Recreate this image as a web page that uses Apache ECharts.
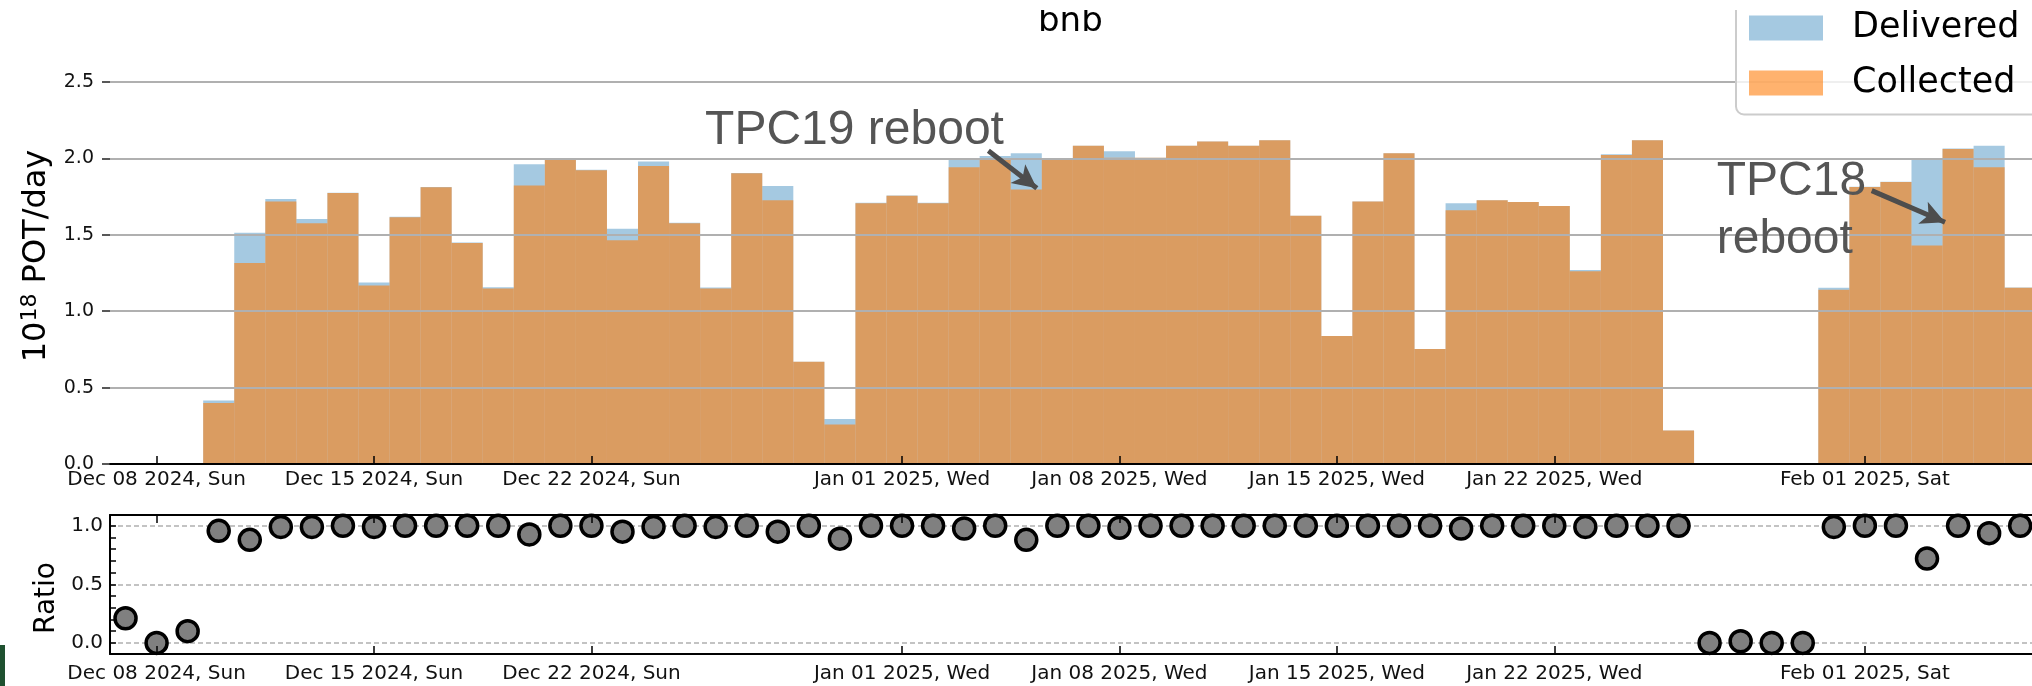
<!DOCTYPE html>
<html>
<head>
<meta charset="utf-8">
<title>bnb POT per day</title>
<script src="https://cdn.jsdelivr.net/npm/echarts@6.0.0/dist/echarts.min.js"></script>
<style>
  html, body { margin: 0; padding: 0; background: #fff; }
  #chart { width: 2032px; height: 686px; }
</style>
</head>
<body>
<div id="chart"></div>
<script>
// one bar / one ratio point per day
var dates = [
  '2024-12-07', '2024-12-08', '2024-12-09', '2024-12-10', '2024-12-11', '2024-12-12', '2024-12-13',
  '2024-12-14', '2024-12-15', '2024-12-16', '2024-12-17', '2024-12-18', '2024-12-19', '2024-12-20',
  '2024-12-21', '2024-12-22', '2024-12-23', '2024-12-24', '2024-12-25', '2024-12-26', '2024-12-27',
  '2024-12-28', '2024-12-29', '2024-12-30', '2024-12-31',
  '2025-01-01', '2025-01-02', '2025-01-03', '2025-01-04', '2025-01-05', '2025-01-06', '2025-01-07',
  '2025-01-08', '2025-01-09', '2025-01-10', '2025-01-11', '2025-01-12', '2025-01-13', '2025-01-14',
  '2025-01-15', '2025-01-16', '2025-01-17', '2025-01-18', '2025-01-19', '2025-01-20', '2025-01-21',
  '2025-01-22', '2025-01-23', '2025-01-24', '2025-01-25', '2025-01-26', '2025-01-27', '2025-01-28',
  '2025-01-29', '2025-01-30', '2025-01-31',
  '2025-02-01', '2025-02-02', '2025-02-03', '2025-02-04', '2025-02-05', '2025-02-06'
];

// 10^18 POT per day
var delivered = [
  null, null, null, 0.416, 1.513, 1.735, 1.604,
  1.776, 1.188, 1.618, 1.813, 1.449, 1.157, 1.962,
  1.992, 1.925, 1.539, 1.979, 1.579, 1.155, 1.905,
  1.820, 0.669, 0.294, 1.709,
  1.757, 1.709, 1.999, 2.016, 2.034, 2.003, 2.082,
  2.047, 2.005, 2.082, 2.110, 2.082, 2.119, 1.624,
  0.837, 1.718, 2.034, 0.752, 1.707, 1.726, 1.715,
  1.689, 1.269, 2.027, 2.119, 0.220, null, null,
  null, null, 1.153,
  1.815, 1.848, 1.990, 2.064, 2.082, 1.155
];
var collected = [
  null, null, null, 0.399, 1.316, 1.718, 1.576,
  1.774, 1.168, 1.615, 1.811, 1.447, 1.149, 1.822,
  1.990, 1.922, 1.465, 1.951, 1.576, 1.149, 1.903,
  1.726, 0.669, 0.259, 1.707,
  1.755, 1.707, 1.942, 1.995, 1.796, 2.003, 2.082,
  2.005, 2.005, 2.082, 2.110, 2.082, 2.119, 1.624,
  0.837, 1.718, 2.034, 0.752, 1.661, 1.726, 1.715,
  1.689, 1.262, 2.023, 2.119, 0.220, null, null,
  null, null, 1.140,
  1.813, 1.846, 1.430, 2.062, 1.942, 1.153
];
// collected / delivered
var ratio = [
  0.21, 0.0, 0.10, 0.957, 0.88, 0.99, 0.99,
  1.0, 0.99, 1.0, 1.0, 1.0, 1.0, 0.926,
  1.0, 1.0, 0.95, 0.99, 1.0, 0.99, 1.0,
  0.95, 1.0, 0.89, 1.0,
  1.0, 1.0, 0.977, 1.0, 0.88, 1.0, 1.0,
  0.983, 1.0, 1.0, 1.0, 1.0, 1.0, 1.0,
  1.0, 1.0, 1.0, 1.0, 0.977, 1.0, 1.0,
  1.0, 0.99, 1.0, 1.0, 1.0, 0.0, 0.014,
  0.0, 0.0, 0.99,
  1.0, 1.0, 0.72, 1.0, 0.937, 1.0
];

var tickDates = ['2024-12-08', '2024-12-15', '2024-12-22', '2025-01-01', '2025-01-08', '2025-01-15', '2025-01-22', '2025-02-01'];
var tickLabels = ['Dec 08 2024, Sun', 'Dec 15 2024, Sun', 'Dec 22 2024, Sun', 'Jan 01 2025, Wed',
                  'Jan 08 2025, Wed', 'Jan 15 2025, Wed', 'Jan 22 2025, Wed', 'Feb 01 2025, Sat'];
var ratioLabels = [0, 0.5, 1.0];
var ratioTicks = [0, 0.1, 0.2, 0.3, 0.4, 0.5, 0.6, 0.7, 0.8, 0.9, 1.0];

var DAY = 86400000;
function ts(d) { return Date.parse(d + 'T00:00:00Z'); }
function at(d, frac) { return ts(d) + frac * DAY; }

// annotations, matplotlib style: text anchor (left, baseline) and arrow from -> to
var notes = [
  { text: 'TPC19 reboot', textAt: [at('2024-12-25', 0.66), 2.094],
    from: [at('2025-01-03', 0.78), 2.05], to: [at('2025-01-05', 0.34), 1.804] },
  { text: 'TPC18\nreboot', textAt: [at('2025-01-27', 0.23), 1.765],
    from: [at('2025-02-01', 0.22), 1.789], to: [at('2025-02-03', 0.58), 1.582] }
];

var FONT = 'DejaVu Sans';
var gridLeft = 110;
var gridWidth = 2032 - gridLeft;       // plot runs off the right edge of the picture
var pxPerDay = 31.06;
var xMin = ts('2024-12-06') + DAY / 2;
var xMax = xMin + gridWidth / pxPerDay * DAY;

var xs = dates.map(ts);
var tickTs = tickDates.map(ts);
var labelOf = {};
tickTs.forEach(function (t, i) { labelOf[t] = tickLabels[i]; });
function pairs(vals) { return vals.map(function (v, i) { return [xs[i], v]; }); }

function dateAxis(gridIndex, position, showLabel, margin) {
  return {
    type: 'value', gridIndex: gridIndex, position: position, min: xMin, max: xMax,
    axisLine: { show: true, onZero: false, lineStyle: { color: '#000', width: 2 } },
    axisTick: { show: true, inside: true, length: 8, customValues: tickTs, lineStyle: { color: '#000', width: 1.5 } },
    axisLabel: { show: showLabel, customValues: tickTs, margin: margin, fontFamily: FONT, fontSize: 20, color: '#111',
                 formatter: function (v) { return labelOf[v] || ''; } },
    splitLine: { show: false },
    z: 3
  };
}

var chart = echarts.init(document.getElementById('chart'));

var option = {
  animation: false,
  title: {
    text: 'bnb', left: 1038, top: 5, padding: 0,
    textStyle: { fontFamily: FONT, fontSize: 34, fontWeight: 'normal', color: '#000' }
  },
  legend: {
    data: ['Delivered', 'Collected'], orient: 'vertical', left: 1736, top: -6,
    padding: [14, 40, 11.5, 13], itemWidth: 74, itemHeight: 25, itemGap: 15,
    icon: 'rect', selectedMode: false,
    backgroundColor: 'rgba(255,255,255,0.8)', borderColor: '#cccccc', borderWidth: 2, borderRadius: 8,
    textStyle: { fontFamily: FONT, fontSize: 35, color: '#000', lineHeight: 40, padding: [0, 0, 0, 24] }
  },
  grid: [
    { left: gridLeft, top: 82, width: gridWidth, height: 382 },
    { left: gridLeft, top: 515, width: gridWidth, height: 139 }
  ],
  xAxis: [
    dateAxis(0, 'bottom', true, 6),
    dateAxis(1, 'bottom', true, 10),
    dateAxis(1, 'top', false, 4)
  ],
  yAxis: [
    {
      type: 'value', gridIndex: 0, min: 0, max: 2.5, interval: 0.5,
      axisLine: { show: false },
      axisTick: { show: true, length: 8, lineStyle: { color: '#222', width: 1.5 } },
      axisLabel: { margin: 16, fontFamily: FONT, fontSize: 19, color: '#111',
                   formatter: function (v) { return v.toFixed(1); } },
      splitLine: { show: true, lineStyle: { color: '#b0b0b0', width: 2 } },
      name: '{a|10}{s|18}{a| POT/day}', nameLocation: 'middle', nameRotate: 90, nameGap: 55,
      nameTextStyle: {
        fontFamily: FONT, fontSize: 32, color: '#000', padding: [0, 0, 0, 34],
        rich: { a: { fontFamily: FONT, fontSize: 32, color: '#000' },
                s: { fontFamily: FONT, fontSize: 22, color: '#000', padding: [0, 0, 13, 0] } }
      },
      z: 3
    },
    {
      type: 'value', gridIndex: 1, min: -0.095, max: 1.092,
      axisLine: { show: true, lineStyle: { color: '#000', width: 2 } },
      axisTick: { show: true, inside: true, length: 6, customValues: ratioTicks, lineStyle: { color: '#000', width: 1.5 } },
      axisLabel: { customValues: ratioLabels, margin: 7, fontFamily: FONT, fontSize: 20, color: '#111',
                   formatter: function (v) { return v.toFixed(1); } },
      splitLine: { show: false },
      name: 'Ratio', nameLocation: 'middle', nameRotate: 90, nameGap: 42,
      nameTextStyle: { fontFamily: FONT, fontSize: 28, color: '#000', padding: [0, 27, 0, 0] },
      z: 3
    }
  ],
  series: [
    {
      name: 'Delivered', type: 'bar', xAxisIndex: 0, yAxisIndex: 0,
      data: pairs(delivered), barWidth: pxPerDay, barGap: '-100%',
      itemStyle: { color: 'rgba(31,119,180,0.4)' },
      emphasis: { disabled: true }
    },
    {
      name: 'Collected', type: 'bar', xAxisIndex: 0, yAxisIndex: 0,
      data: pairs(collected), barWidth: pxPerDay, barGap: '-100%',
      itemStyle: { color: 'rgba(255,127,14,0.6)' },
      emphasis: { disabled: true },
      markLine: {
        silent: true, animation: false, symbol: ['none', 'arrow'], symbolSize: [18, 24],
        label: { show: false },
        lineStyle: { color: '#4d4d4d', width: 5, type: 'solid', opacity: 1 },
        emphasis: { disabled: true },
        data: notes.map(function (n) { return [{ coord: n.from }, { coord: n.to }]; })
      }
    },
    {
      name: 'Ratio', type: 'scatter', xAxisIndex: 1, yAxisIndex: 1,
      data: pairs(ratio), symbolSize: 21, clip: false,
      itemStyle: { color: '#808080', borderColor: '#000', borderWidth: 3.5, opacity: 1 },
      emphasis: { disabled: true },
      markLine: {
        silent: true, animation: false, symbol: 'none', z: 1,
        label: { show: false },
        lineStyle: { color: '#b0b0b0', width: 1.5, type: [5, 3] },
        emphasis: { disabled: true },
        data: ratioLabels.map(function (v) { return { yAxis: v }; })
      }
    }
  ]
};

chart.setOption(option);

// annotation texts and the picture's edge artefacts
var graphics = notes.map(function (n, i) {
  var p = chart.convertToPixel({ gridIndex: 0 }, n.textAt);
  return {
    type: 'text', id: 'note' + i, x: p[0], y: p[1] - 42, z: 50,
    style: { text: n.text, fill: '#555555', fontSize: 48, fontFamily: 'Liberation Sans',
             lineHeight: 58, align: 'left', verticalAlign: 'top' }
  };
});
graphics.push({ type: 'rect', id: 'topBand', z: 100, shape: { x: 0, y: 0, width: 2032, height: 10 }, style: { fill: '#ffffff' } });
graphics.push({ type: 'rect', id: 'greenEdge', z: 100, shape: { x: 0, y: 645, width: 5, height: 41 }, style: { fill: '#1f5130' } });
chart.setOption({ graphic: graphics });
</script>
</body>
</html>
